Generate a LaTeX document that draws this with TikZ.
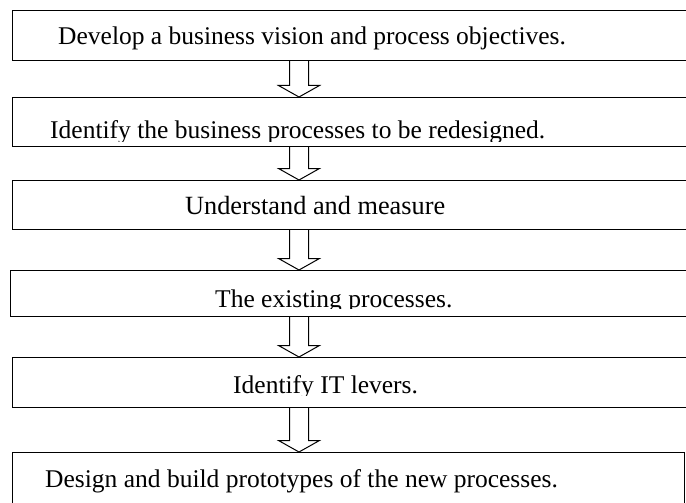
\documentclass[tikz,border=0pt]{standalone}
\usepackage{fontspec}
\setmainfont{Liberation Serif}
\usetikzlibrary{calc}
\begin{document}
\begin{tikzpicture}[x=1pt,y=-1pt,line join=miter]
\tikzset{
  box/.style={draw, line width=1.2pt, inner sep=0pt, anchor=north west},
  lbl/.style={font=\fontsize{25.5}{30}\selectfont, inner sep=0pt, anchor=base west},
  flow/.style={draw, line width=1pt, fill=white}
}
\clip (0,0) rectangle (686,503);
\fill[white] (0,0) rectangle (686,503);
\node[box, minimum width=700pt, minimum height=50pt] (b1) at (12,10) {};
\node[box, minimum width=700pt, minimum height=49pt] (b2) at (12,97) {};
\node[box, minimum width=700pt, minimum height=49pt] (b3) at (12,180) {};
\node[box, minimum width=700pt, minimum height=46pt] (b4) at (10,270) {};
\node[box, minimum width=700pt, minimum height=50pt] (b5) at (12,357) {};
\node[box, minimum width=672pt, minimum height=60pt] (b6) at (12,452) {};
\node[lbl] (t1) at (58,45) {Develop a business vision and process objectives.};
\begin{scope}
\clip (20,100) rectangle (680,141.5);
\node[lbl] (t2) at (50,139) {Identify the business processes to be redesigned.};
\end{scope}
\node[lbl, font=\fontsize{26.3}{30}\selectfont] (t3) at (185,214) {Understand and measure};
\begin{scope}
\clip (20,273) rectangle (680,308.5);
\node[lbl] (t4) at (215,307) {The existing processes.};
\end{scope}
\begin{scope}
\clip (20,360) rectangle (680,395);
\node[lbl] (t5) at (233,393) {Identify IT levers.};
\end{scope}
\node[lbl] (t6) at (45,487) {Design and build prototypes of the new processes.};
\foreach \a/\b in {b1/b2,b2/b3,b3/b4,b4/b5,b5/b6}{
  \draw[flow] let \p1=(\a.south), \p2=(\b.north) in
    (289.5pt,\y1) -- (289.5pt,\y2+11.5pt) -- (278.5pt,\y2+11.5pt) -- (299pt,\y2)
    -- (319.5pt,\y2+11.5pt) -- (308.5pt,\y2+11.5pt) -- (308.5pt,\y1);
}
\end{tikzpicture}
\end{document}
